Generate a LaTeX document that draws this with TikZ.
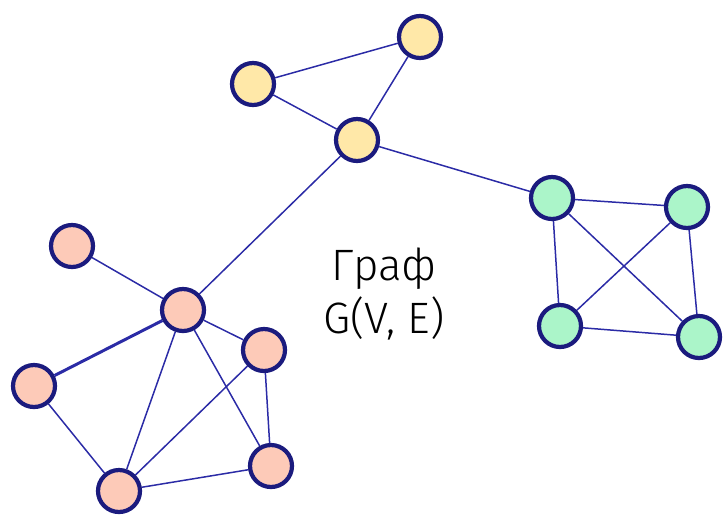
\documentclass[tikz,border=0pt]{standalone}
\usepackage{fontspec}
\setmainfont{Fira Sans}[UprightFont=* Light]
\usetikzlibrary{backgrounds}
\definecolor{bordeazul}{HTML}{1B1B7E}
\definecolor{aristaazul}{HTML}{2B2BA6}
\definecolor{amarillo}{HTML}{FFE8A8}
\definecolor{verde}{HTML}{ABF5C9}
\definecolor{rosa}{HTML}{FDCAB8}

\begin{document}
\begin{tikzpicture}[x=0.02cm, y=-0.02cm,
		vertice/.style={circle, draw=bordeazul, line width=2.4pt, minimum size=0.84cm, inner sep=0pt},
		va/.style={vertice, fill=amarillo},
		vv/.style={vertice, fill=verde},
		vr/.style={vertice, fill=rosa},
		arista/.style={draw=aristaazul, line width=0.85pt}]
	\useasboundingbox (0,0) rectangle (723,515);

	% Componente amarilla
	\node[va] (a1) at (420,37) {};
	\node[va] (a2) at (253,84) {};
	\node[va] (a3) at (357,140) {};

	% Componente verde
	\node[vv] (v1) at (552,198) {};
	\node[vv] (v2) at (687,207) {};
	\node[vv] (v3) at (560,326) {};
	\node[vv] (v4) at (699,337) {};

	% Componente rosa
	\node[vr] (r1) at (72,246) {};
	\node[vr] (r2) at (183,310) {};
	\node[vr] (r3) at (264,350) {};
	\node[vr] (r4) at (34,386) {};
	\node[vr] (r5) at (271,466) {};
	\node[vr] (r6) at (119,491) {};

	% Aristas
	\begin{scope}[on background layer]
		\draw[arista] (a2) -- (a1) -- (a3) -- (a2);
		\draw[arista] (a3) -- (v1);
		\draw[arista] (a3) -- (r2);
		\draw[arista] (v1) -- (v2) -- (v4) -- (v3) -- (v1) -- (v4);
		\draw[arista] (v2) -- (v3);
		\draw[arista] (r1) -- (r2) -- (r3) -- (r5) -- (r6) -- (r4);
		\draw[arista, line width=1.7pt] (r2) -- (r4);
		\draw[arista] (r2) -- (r6) -- (r3);
		\draw[arista] (r2) -- (r5);
	\end{scope}

	% Texto
	\node[font=\fontsize{25}{30.6}\selectfont, align=center] (titulo) at (384,294) {Граф\\G(V, E)};
\end{tikzpicture}
\end{document}
